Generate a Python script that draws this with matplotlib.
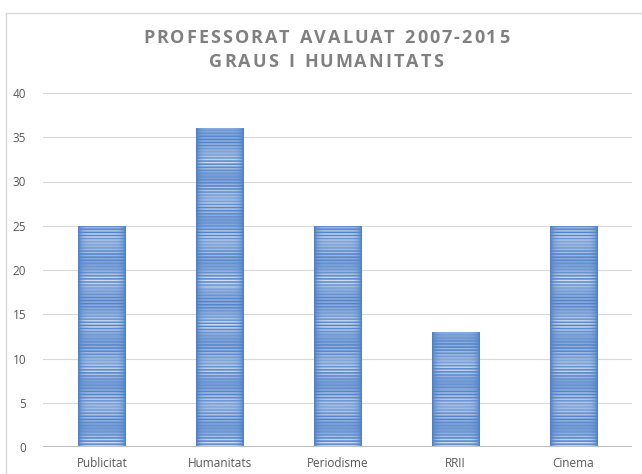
import matplotlib.pyplot as plt
import numpy as np
from matplotlib.lines import Line2D

categories = ['Publicitat', 'Humanitats', 'Periodisme', 'RRII', 'Cinema']
values = [25, 36, 25, 13, 25]
yticks = [0, 5, 10, 15, 20, 25, 30, 35, 40]
title_lines = ['PROFESSORAT AVALUAT 2007-2015', 'GRAUS I HUMANITATS']

plt.rcParams['font.family'] = ['Open Sans', 'DejaVu Sans']

fig = plt.figure(figsize=(6.42, 4.74), dpi=100)
ax = fig.add_axes([43/642, 1 - 447/474, (632 - 43)/642, (447 - 93)/474])

x = np.arange(len(categories))
bars = ax.bar(x, values, width=0.4, color='none', edgecolor='none', zorder=3)

# horizontal striped texture for the bars
dark = np.array([0x4F, 0x81, 0xC9]) / 255
light = np.array([0xD6, 0xE2, 0xF3]) / 255
for b, v in zip(bars, values):
    nrows = int(v * 8.85)
    r = np.arange(nrows)
    t = 0.5 + 0.5 * np.sin(2 * np.pi * r / 3.1) * (0.6 + 0.4 * np.sin(2 * np.pi * r / 23.0))
    t = t * (0.75 + 0.25 * np.cos(2 * np.pi * r / 41.0))
    cols = 46
    c = np.linspace(-1, 1, cols)
    edge = np.clip(1 - np.abs(c) ** 6, 0, 1)
    tt = t[:, None] * edge[None, :]
    img = dark[None, None, :] + (light - dark)[None, None, :] * tt[:, :, None]
    im = ax.imshow(img, extent=(b.get_x(), b.get_x() + b.get_width(), 0, v),
                   aspect='auto', origin='lower', zorder=3, interpolation='nearest')
    im.set_clip_path(b)

ax.set_xlim(-0.5, len(categories) - 0.5)
ax.set_ylim(0, 40)
ax.set_yticks(yticks)
ax.set_xticks(x)
ax.set_xticklabels(categories)
for s in ax.spines.values():
    s.set_visible(False)
ax.yaxis.grid(True, color='#D9D9D9', linewidth=0.8, zorder=0)
ax.axhline(0, color='#BFBFBF', linewidth=1.5, zorder=4)
ax.tick_params(axis='both', length=0, labelsize=8.5, colors='#595959')
ax.tick_params(axis='y', pad=12)
ax.tick_params(axis='x', pad=7)

# title with letter spacing: place each glyph individually
fig.canvas.draw()
renderer = fig.canvas.get_renderer()
track = 2.0  # extra px between letters
for line, ypix in zip(title_lines, [38, 62]):
    widths = []
    for ch in line:
        t = fig.text(0, 0, ch if ch != ' ' else 'I', fontsize=13, fontweight='bold')
        widths.append(t.get_window_extent(renderer).width)
        t.remove()
    total = sum(widths) + track * (len(line) - 1)
    xpos = 326 - total / 2
    for ch, w in zip(line, widths):
        if ch != ' ':
            fig.text(xpos / 642, 1 - ypix / 474, ch, ha='left', va='center',
                     fontsize=13, fontweight='bold', color='#808080')
        xpos += w + track

# chart frame (top and left edges visible)
fig.add_artist(Line2D([6/642, 1], [1 - 13/474, 1 - 13/474], transform=fig.transFigure,
                      color='#D9D9D9', linewidth=1))
fig.add_artist(Line2D([6/642, 6/642], [0, 1 - 13/474], transform=fig.transFigure,
                      color='#D9D9D9', linewidth=1))

fig.savefig('out.png', dpi=100)
